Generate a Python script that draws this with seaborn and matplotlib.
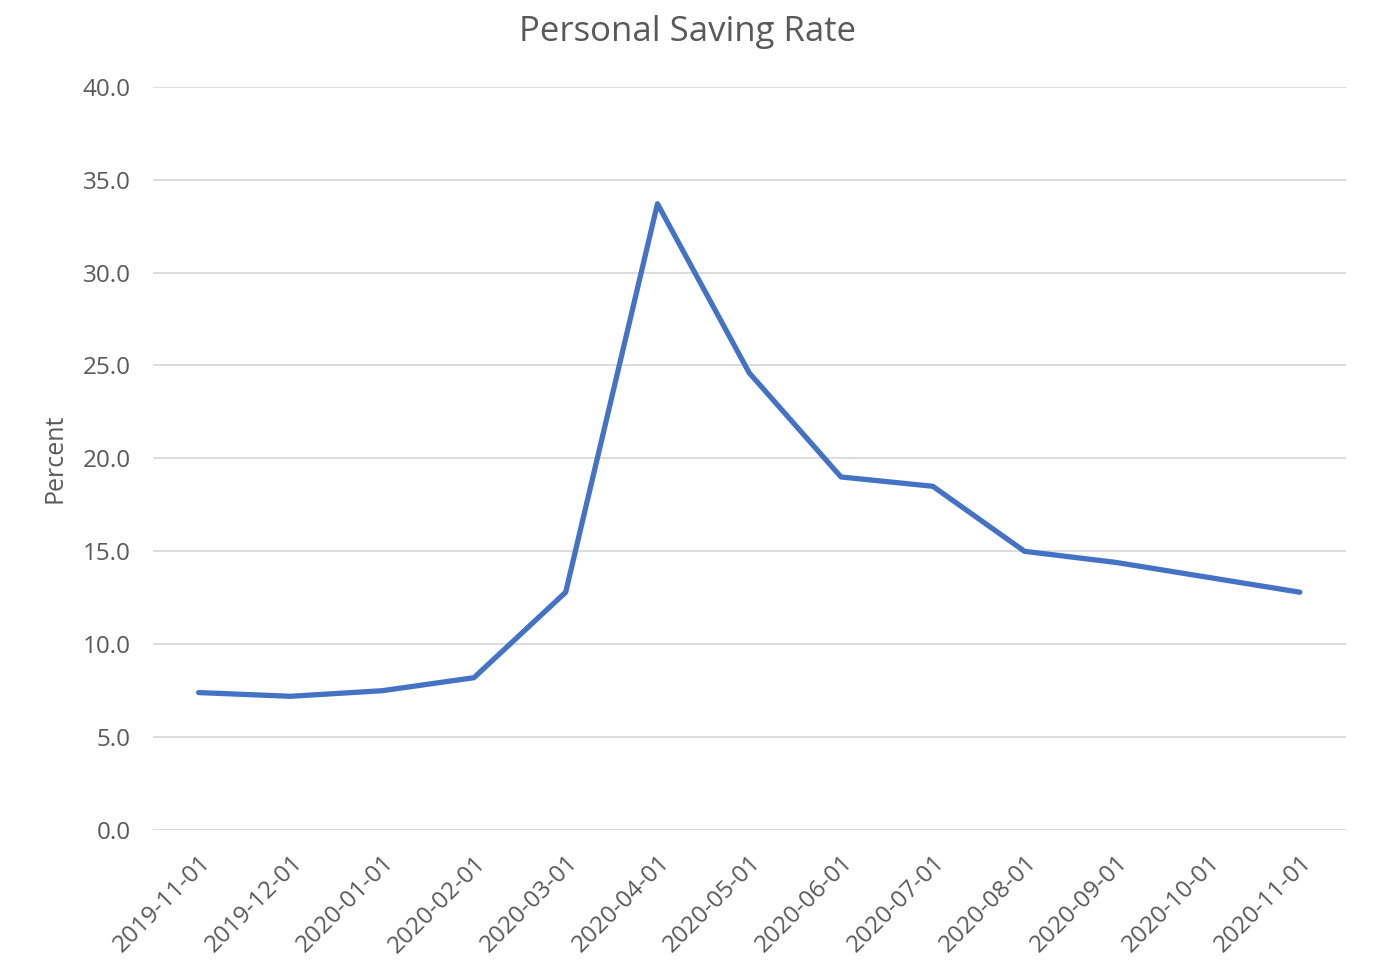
import matplotlib
matplotlib.use("Agg")
import matplotlib.pyplot as plt
import seaborn as sns
import pandas as pd

months = ["2019-11-01", "2019-12-01", "2020-01-01", "2020-02-01", "2020-03-01",
          "2020-04-01", "2020-05-01", "2020-06-01", "2020-07-01", "2020-08-01",
          "2020-09-01", "2020-10-01", "2020-11-01"]
saving_rate = [7.4, 7.2, 7.5, 8.2, 12.8, 33.7, 24.6, 19.0, 18.5, 15.0, 14.4, 13.6, 12.8]
y_ticks = [0, 5, 10, 15, 20, 25, 30, 35, 40]

data = pd.DataFrame({"date": months, "rate": saving_rate})

sns.set_style("white")
plt.rcParams["font.family"] = ["Open Sans", "DejaVu Sans"]

fig = plt.figure(figsize=(13.76, 9.63), dpi=100)
ax = fig.add_axes([0.111, 0.138, 0.867, 0.772])

sns.lineplot(x="date", y="rate", data=data, ax=ax, color="#4472C4",
             linewidth=3.8, sort=False)

ax.set_xlim(-0.5, len(months) - 0.5)
ax.set_ylim(0, 40)
ax.set_yticks(y_ticks)
ax.set_yticklabels([f"{v:.1f}" for v in y_ticks])
ax.yaxis.grid(True, color="#d9d9d9", linewidth=1.3)
ax.set_axisbelow(True)
sns.despine(ax=ax, left=True, bottom=True)

ax.tick_params(axis="y", length=0, pad=16, labelsize=17.5, labelcolor="#595959")
ax.tick_params(axis="x", length=0, pad=15, labelsize=17.5, labelcolor="#595959")
plt.setp(ax.get_xticklabels(), rotation=45, ha="right", rotation_mode="anchor")

fig.suptitle("Personal Saving Rate", x=0.5, y=0.984, fontsize=25,
             color="#595959")
ax.set_xlabel("")
ax.set_ylabel("Percent", fontsize=18, color="#595959", labelpad=11)

fig.savefig("out.png", dpi=100)
